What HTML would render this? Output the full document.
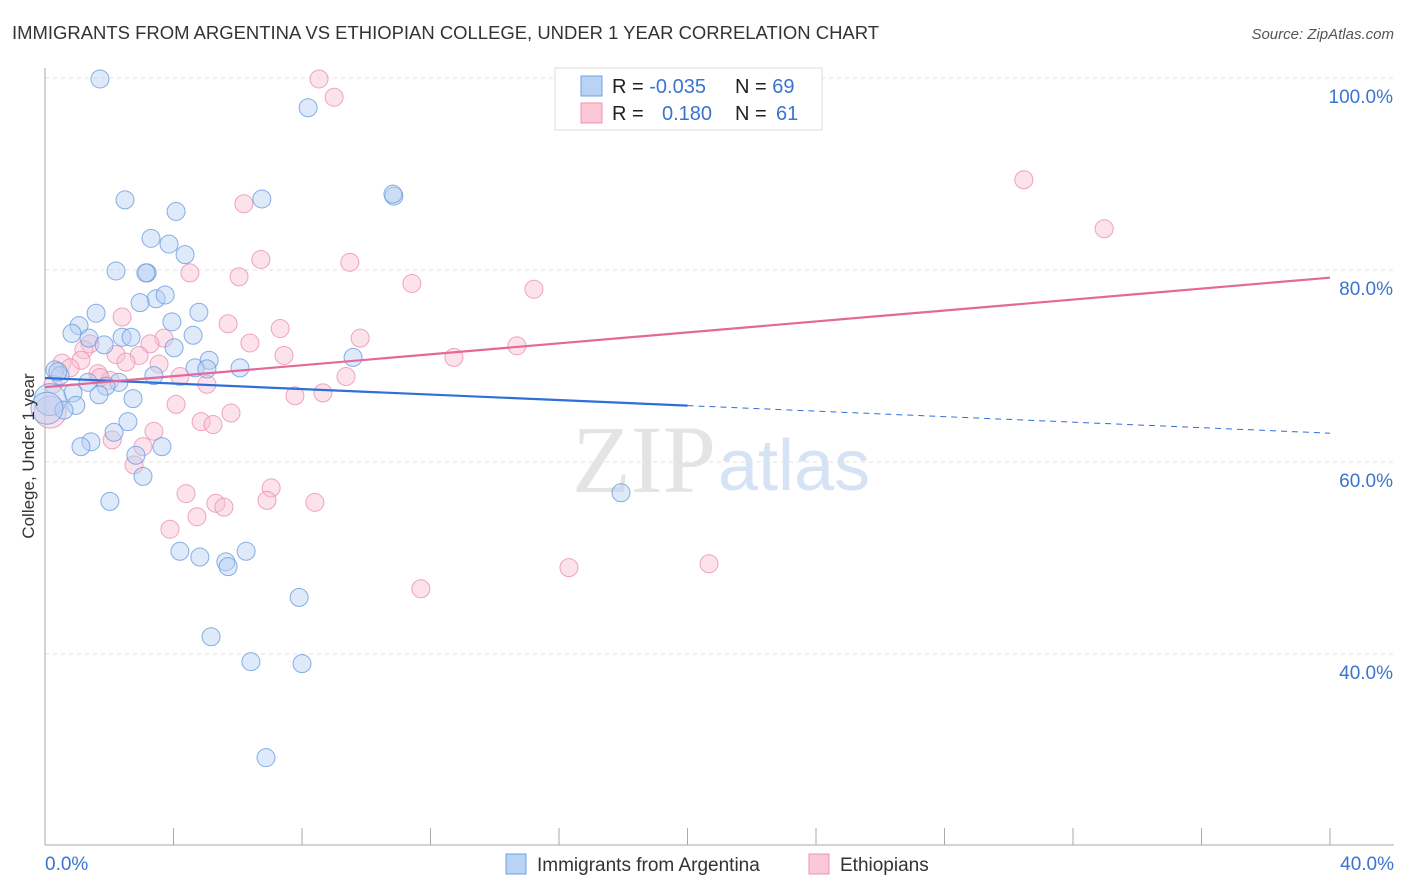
<!DOCTYPE html>
<html><head><meta charset="utf-8"><style>
body{margin:0;background:#fff;font-family:"Liberation Sans",sans-serif;}
#wrap{position:relative;width:1406px;height:892px;overflow:hidden;}
</style></head><body>
<div id="wrap">
<svg id="chart" width="1406" height="892" font-family="Liberation Sans, sans-serif">
<text x="12" y="39" font-size="18" fill="#333" textLength="867" lengthAdjust="spacingAndGlyphs">IMMIGRANTS FROM ARGENTINA VS ETHIOPIAN COLLEGE, UNDER 1 YEAR CORRELATION CHART</text>
<text x="1394" y="39" font-size="15" fill="#555" font-style="italic" text-anchor="end">Source: ZipAtlas.com</text>
<text x="716" y="492" font-size="96" fill="#e4e4e4" font-family="Liberation Serif, serif" text-anchor="end">ZIP</text>
<text x="718" y="490" font-size="72" fill="#d6e3f5">atlas</text>
<g id="grid"></g>
<g id="axes"></g>
<g id="pts"></g>
<g id="trends"></g>
<text transform="translate(34,456) rotate(-90)" font-size="17" fill="#333" text-anchor="middle">College, Under 1 year</text>
<g>
<rect x="555" y="68" width="267" height="62" fill="#fff" stroke="#ddd"/>
<rect x="581" y="76" width="21" height="20" fill="#b8d3f5" stroke="#6fa0e0"/>
<rect x="581" y="103" width="21" height="20" fill="#fbc8d7" stroke="#ec94b0"/>
<text x="612" y="93" font-size="20" fill="#222">R = <tspan fill="#3a74d0">-0.035</tspan><tspan x="735">N = </tspan><tspan fill="#3a74d0">69</tspan></text>
<text x="612" y="120" font-size="20" fill="#222">R = <tspan x="662" fill="#3a74d0">0.180</tspan><tspan x="735">N = </tspan><tspan x="776" fill="#3a74d0">61</tspan></text>
</g>
<g>
<rect x="506" y="854" width="20" height="20" fill="#b8d3f5" stroke="#6fa0e0"/>
<text x="537" y="871" font-size="19" fill="#333">Immigrants from Argentina</text>
<rect x="809" y="854" width="20" height="20" fill="#fbc8d7" stroke="#ec94b0"/>
<text x="840" y="871" font-size="19" fill="#333">Ethiopians</text>
</g>
</svg>
</div>
<script>
const blueX=[1.71,8.19,2.49,6.75,10.86,10.83,4.08,3.30,3.86,4.36,2.21,3.18,3.14,3.46,3.74,2.96,1.59,4.79,1.06,0.84,1.37,3.95,2.40,2.68,1.84,4.61,4.02,5.11,4.67,5.04,6.07,9.59,3.39,0.31,0.47,1.34,2.30,1.90,1.68,0.87,2.74,0.16,0.96,0.59,2.58,2.15,1.43,1.12,3.64,2.83,3.05,2.02,17.93,4.20,4.82,5.63,5.70,6.26,7.91,5.17,6.41,8.00,6.88,0.06,0.40];
const blueY=[99.9,96.9,87.3,87.4,87.7,87.9,86.1,83.3,82.7,81.6,79.9,79.7,79.7,77.0,77.4,76.6,75.5,75.6,74.2,73.4,72.9,74.6,73.0,73.0,72.2,73.2,71.9,70.6,69.8,69.7,69.8,70.9,69.0,69.6,69.0,68.3,68.3,67.9,67.0,67.2,66.6,66.5,65.9,65.4,64.2,63.1,62.1,61.6,61.6,60.7,58.5,55.9,56.8,50.7,50.1,49.6,49.1,50.7,45.9,41.8,39.2,39.0,29.2,65.6,69.4];
const pinkX=[8.53,9.0,30.47,32.97,6.19,6.72,9.49,4.51,6.04,11.42,15.22,2.40,5.70,7.32,9.81,3.70,6.38,3.27,14.69,1.40,1.21,7.44,2.93,2.21,12.73,0.53,1.12,3.55,2.52,0.78,1.65,4.20,9.37,5.04,2.02,1.71,0.25,8.65,7.78,4.08,5.79,4.86,5.23,3.39,2.09,3.05,2.77,4.39,7.04,5.32,5.57,6.91,8.40,4.73,3.89,16.31,20.67,11.70,0.16];
const pinkY=[99.9,98.0,89.4,84.3,86.9,81.1,80.8,79.7,79.3,78.6,78.0,75.1,74.4,73.9,72.9,72.9,72.4,72.3,72.1,72.3,71.7,71.1,71.1,71.2,70.9,70.3,70.6,70.2,70.4,69.8,69.2,68.9,68.9,68.1,68.5,68.8,68.1,67.2,66.9,66.0,65.1,64.2,63.9,63.2,62.3,61.6,59.7,56.7,57.3,55.7,55.3,56.0,55.8,54.3,53.0,49.0,49.4,46.8,65.2];
const blueTrend=[68.75,63.0];
const pinkTrend=[67.8,79.2];
const yTicks=[100,80,60,40];
const yTickLabels=["100.0%","80.0%","60.0%","40.0%"];
const xTickLabels=["0.0%","40.0%"];
const NS="http://www.w3.org/2000/svg";
const X=v=>45+v*32.125;
const Y=v=>78+(100-v)*9.6;
function mk(tag,attrs,parent){const e=document.createElementNS(NS,tag);for(const k in attrs)e.setAttribute(k,attrs[k]);parent.appendChild(e);return e;}
const grid=document.getElementById('grid'),axes=document.getElementById('axes'),pts=document.getElementById('pts'),tr=document.getElementById('trends');
yTicks.forEach((t,i)=>{
 const l=mk('line',{x1:45,x2:1394,y1:Y(t),y2:Y(t),stroke:'#e2e2e2','stroke-dasharray':'4 4'},grid);
 
 
 const tx=mk('text',{x:1393,y:Y(t)+25,'font-size':19,fill:'#3a74d0','text-anchor':'end'},grid);
 tx.textContent=yTickLabels[i];
 
 
});
let a=mk('line',{x1:45,x2:45,y1:68,y2:845,stroke:'#aaa'},axes);


a=mk('line',{x1:45,x2:1394,y1:845,y2:845,stroke:'#aaa'},axes);


for(let i=1;i<=10;i++){const t=mk('line',{x1:X(i*4),x2:X(i*4),y1:828,y2:845,stroke:'#aaa'},axes);
 
 }
[[0,'start',45],[40,'end',1394]].forEach((d,i)=>{const t=mk('text',{x:d[2],y:870,'font-size':19,fill:'#3a74d0','text-anchor':d[1]},axes);t.textContent=xTickLabels[i];
 
 });
function dots(xs,ys,fill,stroke,name){xs.forEach((x,i)=>{const big=x<0.2;const c=mk('circle',{cx:X(x),cy:Y(ys[i]),r:big?16:9,fill:fill,'fill-opacity':0.45,stroke:stroke,'stroke-opacity':0.8,'stroke-width':1},pts);
 
 });}
dots(pinkX,pinkY,'#f9c1d2','#ec8fae','point-ethiopians');
dots(blueX,blueY,'#b5cff2','#6a9be0','point-argentina');
let ln=mk('line',{x1:X(0),y1:Y(blueTrend[0]),x2:X(20),y2:Y(blueTrend[0]+(blueTrend[1]-blueTrend[0])/2),stroke:'#2f6fd6','stroke-width':2.2},tr);


ln=mk('line',{x1:X(20),y1:Y(blueTrend[0]+(blueTrend[1]-blueTrend[0])/2),x2:X(40),y2:Y(blueTrend[1]),stroke:'#2f6fd6','stroke-width':1,'stroke-dasharray':'6 5'},tr);


ln=mk('line',{x1:X(0),y1:Y(pinkTrend[0]),x2:X(40),y2:Y(pinkTrend[1]),stroke:'#e4689a','stroke-width':2.2},tr);


</script>
</body></html>
